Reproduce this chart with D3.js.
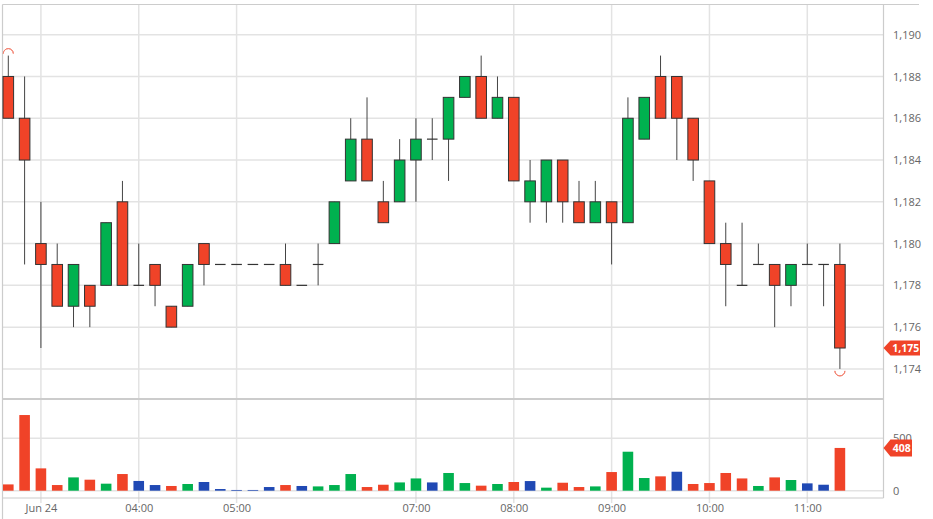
<!DOCTYPE html>
<html>
<head>
<meta charset="utf-8">
<script src="https://cdn.jsdelivr.net/npm/d3@7/dist/d3.min.js"></script>
<style>
html,body{margin:0;padding:0;background:#fff;}
svg{display:block;}
text{font-family:"Open Sans",sans-serif;}
</style>
</head>
<body>
<svg id="chart" width="933" height="519"></svg>
<script>
// ---- data ----
const times = ["02:40","02:50","03:00","03:10","03:20","03:30","03:40","03:50",
  "04:00","04:10","04:20","04:30","04:40","04:50",
  "05:00","05:10","05:20","05:30","05:40","05:50",
  "06:10","06:20","06:30","06:40","06:50",
  "07:00","07:10","07:20","07:30","07:40","07:50",
  "08:00","08:10","08:20","08:30","08:40","08:50",
  "09:00","09:10","09:20","09:30","09:40","09:50",
  "10:00","10:10","10:20","10:30","10:40","10:50",
  "11:00","11:10","11:20"];
const open  = [1.188,1.186,1.180,1.179,1.177,1.178,1.178,1.182,1.178,1.179,1.177,1.177,1.180,1.179,1.179,1.179,1.179,1.179,1.178,1.179,
  1.180,1.183,1.185,1.182,1.182,1.184,1.185,1.185,1.187,1.188,1.186,1.187,1.182,1.182,1.184,1.182,1.181,1.182,1.181,1.185,1.188,1.188,1.186,1.183,1.180,1.178,1.179,1.179,1.178,1.179,1.179,1.179];
const high  = [1.189,1.188,1.182,1.180,1.179,1.178,1.181,1.183,1.180,1.179,1.177,1.179,1.180,1.179,1.179,1.179,1.179,1.180,1.178,1.180,
  1.182,1.186,1.187,1.183,1.185,1.186,1.186,1.187,1.188,1.189,1.188,1.187,1.184,1.184,1.184,1.183,1.183,1.182,1.187,1.187,1.189,1.188,1.186,1.183,1.181,1.181,1.180,1.179,1.179,1.180,1.179,1.180];
const low   = [1.186,1.179,1.175,1.177,1.176,1.176,1.178,1.178,1.178,1.177,1.176,1.177,1.178,1.179,1.179,1.179,1.179,1.178,1.178,1.178,
  1.180,1.183,1.183,1.181,1.182,1.182,1.184,1.183,1.187,1.186,1.186,1.183,1.181,1.181,1.181,1.181,1.181,1.179,1.181,1.185,1.186,1.184,1.183,1.180,1.177,1.178,1.179,1.176,1.177,1.179,1.177,1.174];
const close = [1.186,1.184,1.179,1.177,1.179,1.177,1.181,1.178,1.178,1.178,1.176,1.179,1.179,1.179,1.179,1.179,1.179,1.178,1.178,1.179,
  1.182,1.185,1.183,1.181,1.184,1.185,1.185,1.187,1.188,1.186,1.187,1.183,1.183,1.184,1.182,1.181,1.182,1.181,1.186,1.187,1.186,1.186,1.184,1.180,1.179,1.178,1.179,1.178,1.179,1.179,1.179,1.175];
const volume = [60,722,213,54,127,105,67,159,93,54,45,64,83,16,7,7,35,54,45,41,
  54,159,35,57,79,117,79,169,73,48,64,83,92,29,76,35,41,178,372,121,137,181,64,73,169,117,45,127,102,70,57,408];
const tickTimes  = ["03:00","04:00","05:00","07:00","08:00","09:00","10:00","11:00"];
const tickLabels = ["Jun 24","04:00","05:00","07:00","08:00","09:00","10:00","11:00"];
const priceTicks = [1.174,1.176,1.178,1.180,1.182,1.184,1.186,1.188,1.190];
const volumeTicks = [0,500];

// ---- styles ----
const RED = "#f04328", GREEN = "#00b14f", BLUE = "#2049b4";
const GRID = "#e3e3e3", BORDER = "#cccccc", TEXT = "#666";

const svg = d3.select("#chart");
const L = 2.5, R = 883.5, T = 4.5, MB = 399, VB = 498;

const x = d3.scalePoint().domain(times).range([8.3, 839.9]);
const y = d3.scaleLinear().domain([1.174, 1.190]).range([368.9, 34.7]);
const yv = d3.scaleLinear().domain([0, 500]).range([490.7, 438.3]);
const loc = d3.formatLocale({decimal: ",", thousands: ".", grouping: [3], currency: ["", ""]});
const fmt = loc.format(".3f");

const data = times.map((t, i) => ({t, o: open[i], h: high[i], l: low[i], c: close[i], v: volume[i], i}));

// gridlines
const g = svg.append("g");
g.selectAll("line.hg").data(priceTicks).join("line")
  .attr("x1", L).attr("x2", R).attr("y1", d => y(d)).attr("y2", d => y(d))
  .attr("stroke", GRID).attr("stroke-width", 1.5);
g.selectAll("line.vg").data(volumeTicks).join("line")
  .attr("x1", L).attr("x2", R).attr("y1", d => yv(d)).attr("y2", d => yv(d))
  .attr("stroke", GRID).attr("stroke-width", 1.5);
g.selectAll("line.xg").data(tickTimes).join("line")
  .attr("x1", d => x(d)).attr("x2", d => x(d)).attr("y1", T).attr("y2", 503)
  .attr("stroke", GRID).attr("stroke-width", 1.5);

// borders
svg.append("line").attr("x1", L).attr("x2", 919).attr("y1", T).attr("y2", T).attr("stroke", BORDER).attr("stroke-width", 1.2);
svg.append("line").attr("x1", L).attr("x2", L).attr("y1", T).attr("y2", 519).attr("stroke", BORDER).attr("stroke-width", 1.2);
svg.append("line").attr("x1", R).attr("x2", R).attr("y1", T).attr("y2", VB).attr("stroke", BORDER).attr("stroke-width", 1.2);
svg.append("line").attr("x1", L).attr("x2", R).attr("y1", MB).attr("y2", MB).attr("stroke", BORDER).attr("stroke-width", 2);
svg.append("line").attr("x1", L).attr("x2", R).attr("y1", VB).attr("y2", VB).attr("stroke", BORDER).attr("stroke-width", 1.2);

// volume bars
const BW = 10.6;
const volColor = d => {
  const prev = d.i > 0 ? close[d.i - 1] : d.o;
  return d.c > prev ? GREEN : d.c < prev ? RED : BLUE;
};
svg.append("g").selectAll("rect").data(data).join("rect")
  .attr("x", d => x(d.t) - BW / 2).attr("width", BW)
  .attr("y", d => yv(d.v)).attr("height", d => yv(0) - yv(d.v))
  .attr("fill", volColor);

// candles
const cg = svg.append("g");
cg.selectAll("line.wick").data(data.filter(d => d.h > d.l)).join("line")
  .attr("x1", d => x(d.t)).attr("x2", d => x(d.t))
  .attr("y1", d => y(d.h)).attr("y2", d => y(d.l))
  .attr("stroke", "#444").attr("stroke-width", 1);
cg.selectAll("rect").data(data.filter(d => d.o !== d.c)).join("rect")
  .attr("x", d => x(d.t) - BW / 2).attr("width", BW)
  .attr("y", d => y(Math.max(d.o, d.c)))
  .attr("height", d => y(Math.min(d.o, d.c)) - y(Math.max(d.o, d.c)))
  .attr("fill", d => d.c > d.o ? GREEN : RED)
  .attr("stroke", "#333").attr("stroke-width", 1);
cg.selectAll("line.flat").data(data.filter(d => d.o === d.c)).join("line")
  .attr("x1", d => x(d.t) - BW / 2).attr("x2", d => x(d.t) + BW / 2)
  .attr("y1", d => y(d.c)).attr("y2", d => y(d.c))
  .attr("stroke", "#333").attr("stroke-width", 1.2);

// high / low markers
const hiIdx = d3.maxIndex(high), loIdx = d3.minIndex(low);
svg.append("path")
  .attr("d", d3.arc()({innerRadius: 5, outerRadius: 5, startAngle: -Math.PI / 2, endAngle: Math.PI / 2}))
  .attr("transform", `translate(${x(times[hiIdx])},${y(high[hiIdx]) - 2})`)
  .attr("fill", "none").attr("stroke", "#f3806e").attr("stroke-width", 1);
svg.append("path")
  .attr("d", d3.arc()({innerRadius: 5, outerRadius: 5, startAngle: Math.PI / 2, endAngle: Math.PI * 1.5}))
  .attr("transform", `translate(${x(times[loIdx])},${y(low[loIdx]) + 2})`)
  .attr("fill", "none").attr("stroke", "#f3806e").attr("stroke-width", 1);

// price axis
const pa = svg.append("g").attr("transform", `translate(${R},0)`)
  .call(d3.axisRight(y).tickValues(priceTicks).tickFormat(fmt).tickSize(0).tickPadding(9.5));
pa.select(".domain").remove();
pa.selectAll("text").attr("fill", TEXT).style("font-size", "11px").style("font-family", "'Open Sans',sans-serif");

// volume axis
const va = svg.append("g").attr("transform", `translate(${R},0)`)
  .call(d3.axisRight(yv).tickValues(volumeTicks).tickFormat(d3.format("d")).tickSize(0).tickPadding(9.5));
va.select(".domain").remove();
va.selectAll("text").attr("fill", TEXT).style("font-size", "11px").style("font-family", "'Open Sans',sans-serif");

// x axis
const xa = svg.append("g").attr("transform", `translate(0,${VB})`)
  .call(d3.axisBottom(x).tickValues(tickTimes).tickFormat((d, i) => tickLabels[i]).tickSize(0).tickPadding(6));
xa.select(".domain").remove();
xa.selectAll("text").attr("fill", TEXT).style("font-size", "11px").style("font-family", "'Open Sans',sans-serif");

// last value labels
function flag(yc, x2, h, txt) {
  const x0 = R, x1 = R + 7;
  svg.append("path")
    .attr("d", `M${x0},${yc} L${x1},${yc - h / 2} L${x2},${yc - h / 2} L${x2},${yc + h / 2} L${x1},${yc + h / 2} Z`)
    .attr("fill", RED);
  svg.append("text").attr("x", (x1 + x2) / 2 + 0.5).attr("y", yc).attr("dy", "0.35em")
    .attr("text-anchor", "middle").attr("fill", "#fff")
    .style("font-size", "10.5px").style("font-weight", "bold").text(txt);
}
flag(y(close[close.length - 1]), 920, 15, fmt(close[close.length - 1]));
flag(yv(volume[volume.length - 1]), 912, 17, String(volume[volume.length - 1]));
</script>
</body>
</html>
